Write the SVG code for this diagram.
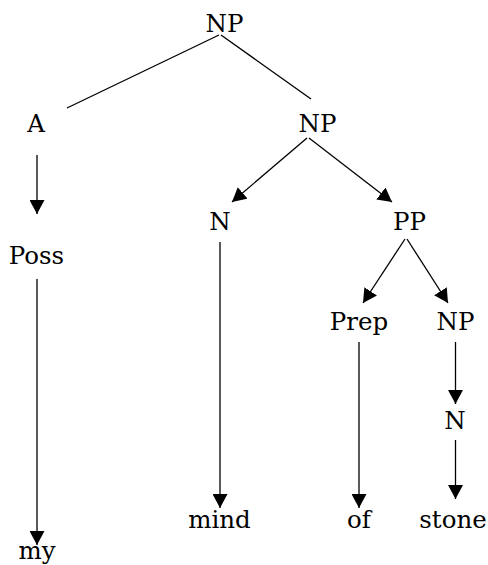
<svg xmlns="http://www.w3.org/2000/svg" width="488" height="565" viewBox="0 0 488 565">
<defs>
<marker id="arr" markerUnits="userSpaceOnUse" markerWidth="15" markerHeight="15" refX="14" refY="7.5" orient="auto" viewBox="0 0 15 15">
<path d="M0,0 L14,7.5 L0,15 z" fill="#000"/>
</marker>
<style>
.e{stroke:#000;stroke-width:1.3;fill:none}
.a{marker-end:url(#arr)}
</style>
</defs>
<rect width="488" height="565" fill="#fff"/>
<g id="connectors">
<line class="e" x1="219" y1="35" x2="67" y2="108"/>
<line class="e" x1="221" y1="35" x2="311" y2="99"/>
<line class="e a" x1="37" y1="155" x2="37" y2="214"/>
<line class="e a" x1="307" y1="138" x2="232" y2="202"/>
<line class="e a" x1="309" y1="138" x2="392" y2="202"/>
<line class="e a" x1="37" y1="279" x2="37" y2="545"/>
<line class="e a" x1="220" y1="242" x2="220" y2="508"/>
<line class="e a" x1="405" y1="239" x2="363" y2="303"/>
<line class="e a" x1="407" y1="239" x2="448" y2="303"/>
<line class="e a" x1="359" y1="342" x2="359" y2="508"/>
<line class="e a" x1="455.5" y1="342" x2="455.5" y2="404"/>
<line class="e a" x1="455.5" y1="440" x2="455.5" y2="499"/>
</g>
<g font-family="DejaVu Serif, serif" font-size="24.5" fill="#000" text-anchor="middle">
<g id="np-root"><text x="224.5" y="32">NP</text></g>
<g id="a"><text x="36" y="132">A</text></g>
<g id="np-mid"><text x="317.5" y="132">NP</text></g>
<g id="poss"><text x="36.5" y="264">Poss</text></g>
<g id="n1"><text x="220" y="230">N</text></g>
<g id="pp"><text x="409.5" y="230">PP</text></g>
<g id="prep"><text x="359" y="330">Prep</text></g>
<g id="np2"><text x="455.5" y="330">NP</text></g>
<g id="n2"><text x="455" y="429">N</text></g>
<g id="mind"><text x="219.5" y="528">mind</text></g>
<g id="of"><text x="359" y="528">of</text></g>
<g id="stone"><text x="453" y="528">stone</text></g>
<g id="my"><text x="37" y="559">my</text></g>
</g>
</svg>
